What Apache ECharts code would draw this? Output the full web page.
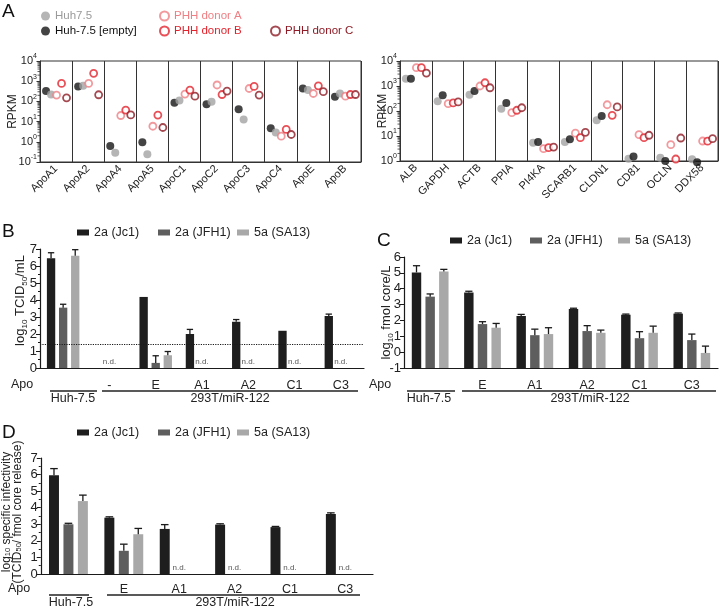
<!DOCTYPE html>
<html>
<head>
<meta charset="utf-8">
<script src="https://cdn.jsdelivr.net/npm/echarts@6/dist/echarts.min.js"></script>
<style>
  html, body { margin: 0; padding: 0; background: #fff; }
  #chart { width: 720px; height: 611px; }
</style>
</head>
<body>
<div id="chart"></div>
<script>
// ---- panel A : RPKM per gene ----
const genesLeft = ['ApoA1', 'ApoA2', 'ApoA4', 'ApoA5', 'ApoC1', 'ApoC2', 'ApoC3', 'ApoC4', 'ApoE', 'ApoB']
const huhLeft = [219, 590, 0.29, 0.24, 112, 96, 12.6, 2.9, 363, 246]
const emptyLeft = [324, 540, 0.62, 0.95, 85, 73, 41, 4.7, 435, 170]
const donorALeft = [205, 776, 20, 5.9, 230, 650, 435, 1.9, 246, 182]
const donorBLeft = [776, 2450, 37, 21, 363, 219, 550, 4.1, 590, 219]
const donorCLeft = [151, 213, 21.5, 5.1, 182, 324, 205, 2.3, 302, 219]

const genesRight = ['ALB', 'GAPDH', 'ACTB', 'PPIA', 'PI4KA', 'SCARB1', 'CLDN1', 'CD81', 'OCLN', 'DDX58']
const huhRight = [1950, 245, 450, 123, 5.4, 5.8, 43, 1.23, 1.35, 1.17]
const emptyRight = [1950, 430, 630, 210, 5.8, 7.4, 63, 1.5, 1.0, 0.9]
const donorARight = [5400, 196, 1000, 86, 3.1, 13, 178, 11.3, 4.5, 6.3]
const donorBRight = [5400, 210, 1350, 107, 3.4, 8.6, 67, 8.6, 1.2, 6.2]
const donorCRight = [3300, 230, 850, 135, 3.6, 14, 145, 10.7, 8.3, 7.8]

// ---- panel B : log10 TCID50/mL (null = n.d.) ----
const groupsB = ['', '-', 'E', 'A1', 'A2', 'C1', 'C3']
const jc1B = [6.45, null, 4.18, 2.0, 2.72, 2.19, 3.06]
const jc1BErr = [0.33, 0, 0, 0.27, 0.13, 0, 0.11]
const jfh1B = [3.55, null, 0.3, null, null, null, null]
const jfh1BErr = [0.2, 0, 0.42, 0, 0, 0, 0]
const sa13B = [6.6, null, 0.75, null, null, null, null]
const sa13BErr = [0.36, 0, 0.22, 0, 0, 0, 0]
const cutoffB = 1.4

// ---- panel C : log10 fmol core/L ----
const groupsC = ['', 'E', 'A1', 'A2', 'C1', 'C3']
const jc1C = [5.03, 3.76, 2.28, 2.72, 2.36, 2.43]
const jc1CErr = [0.42, 0.08, 0.1, 0.05, 0.04, 0.04]
const jfh1C = [3.5, 1.77, 1.07, 1.33, 0.88, 0.76]
const jfh1CErr = [0.17, 0.15, 0.38, 0.34, 0.41, 0.38]
const sa13C = [5.09, 1.54, 1.14, 1.22, 1.22, -0.05]
const sa13CErr = [0.13, 0.27, 0.4, 0.17, 0.42, 0.43]

// ---- panel D : log10 specific infectivity ----
const groupsD = ['', 'E', 'A1', 'A2', 'C1', 'C3']
const jc1D = [5.96, 3.4, 2.72, 2.98, 2.83, 3.62]
const jc1DErr = [0.4, 0.05, 0.26, 0.05, 0.04, 0.07]
const jfh1D = [3.0, 1.4, null, null, null, null]
const jfh1DErr = [0.06, 0.4, 0, 0, 0, 0]
const sa13D = [4.4, 2.4, null, null, null, null]
const sa13DErr = [0.36, 0.35, 0, 0, 0, 0]

const names = ['2a (Jc1)', '2a (JFH1)', '5a (SA13)']
const barColors = ['#1e1e1e', '#5e5e5e', '#a8a8a8']
const ink = '#1a1a1a'
const BW = 0.18, GAP = 0.45

const chart = echarts.init(document.getElementById('chart'))

// dot position inside each gene column (px)
const slots = [-10, -5, 0.5, 5.5, 10.5]

function dots(name, data, gi, slot, fill, stroke) {
  return {
    type: 'scatter', name: name, xAxisIndex: gi, yAxisIndex: gi, data: data,
    symbolSize: fill ? 8 : 7, symbolOffset: [slots[slot], 0], clip: false,
    itemStyle: fill ? { color: fill } : { color: '#fff', borderColor: stroke, borderWidth: 1.8 }
  }
}

// log minor ticks (2..9 x 10^k) drawn on the left edge of a log grid
function logMinor(gi, lo, hi) {
  const vals = []
  for (let e = lo; e < hi; e++) {
    for (let m = 2; m <= 9; m++) vals.push([0, m * Math.pow(10, e)])
  }
  return {
    type: 'custom', xAxisIndex: gi, yAxisIndex: gi, data: vals, silent: true,
    renderItem: (params, api) => {
      const y = api.coord([0, api.value(1)])[1]
      const x = params.coordSys.x
      return { type: 'line', shape: { x1: x - 2.5, y1: y, x2: x, y2: y }, style: { stroke: '#333', lineWidth: 0.8 } }
    }
  }
}

function bars(idx, values, gi, shift, nd) {
  return {
    type: 'bar', name: names[idx], xAxisIndex: gi, yAxisIndex: gi,
    barWidth: (BW * 100) + '%', barGap: (GAP * 100) + '%',
    itemStyle: { color: barColors[idx] },
    data: values.map(v => v == null
      ? { value: shift, label: { show: nd, position: 'top', distance: 2, formatter: 'n.d.', fontSize: 8, color: '#555' } }
      : v + shift)
  }
}

function renderErr(params, api) {
  const cat = api.value(0), v = api.value(1), err = api.value(2), slot = api.value(3)
  const low = api.coord([cat, v])
  const high = api.coord([cat, v + err])
  const band = api.size([1, 0])[0]
  const x = low[0] + (slot - 1) * band * BW * (1 + GAP)
  const cap = band * BW * 0.38
  const st = { stroke: ink, lineWidth: 1.3 }
  return {
    type: 'group', children: [
      { type: 'line', shape: { x1: x, y1: low[1], x2: x, y2: high[1] }, style: st },
      { type: 'line', shape: { x1: x - cap, y1: high[1], x2: x + cap, y2: high[1] }, style: st }
    ]
  }
}

function errors(gi, pairs, shift) {
  const data = []
  pairs.forEach((p, slot) => {
    p[0].forEach((v, i) => {
      if (v != null && p[1][i] > 0) data.push([i, v + shift, p[1][i], slot])
    })
  })
  return { type: 'custom', xAxisIndex: gi, yAxisIndex: gi, renderItem: renderErr, data: data, silent: true, z: 3 }
}

const supRich = {
  a: { fontSize: 11, lineHeight: 16, color: '#222' },
  s: { fontSize: 7, lineHeight: 8, verticalAlign: 'top', color: '#222' }
}
const subRich = {
  a: { fontSize: 13, lineHeight: 18, color: '#222' },
  b: { fontSize: 8, lineHeight: 9, verticalAlign: 'bottom', color: '#222' }
}

function geneX(gi, genes) {
  return {
    type: 'category', gridIndex: gi, data: genes, boundaryGap: true,
    axisLine: { lineStyle: { color: '#333' } },
    axisTick: { alignWithLabel: true, length: 3, lineStyle: { color: '#333' } },
    splitLine: { show: true, lineStyle: { color: '#333', width: 1 } },
    axisLabel: { rotate: 45, fontSize: 11, color: '#222', margin: 5, interval: 0 }
  }
}

function logY(gi, min, gap) {
  return {
    type: 'log', logBase: 10, gridIndex: gi, min: min, max: 10000,
    name: 'RPKM', nameLocation: 'middle', nameGap: gap, nameMoveOverlap: false,
    nameTextStyle: { fontSize: 12, color: '#222' },
    axisLine: { show: true, lineStyle: { color: '#333' } },
    axisTick: { show: true, length: 3.5, lineStyle: { color: '#333' } },
    splitLine: { show: false },
    axisLabel: {
      margin: 3,
      formatter: v => '{a|10}{s|' + Math.round(Math.log10(v)) + '}',
      rich: supRich
    }
  }
}

function groupX(gi, groups, margin, font) {
  return {
    type: 'category', gridIndex: gi, data: groups,
    axisLine: { lineStyle: { color: ink, width: 1.2 } },
    axisTick: { alignWithLabel: true, length: 4, lineStyle: { color: ink } },
    axisLabel: { fontSize: 12.5, color: '#222', margin: margin, interval: 0, fontFamily: font }
  }
}

function valueY(gi, name, gap, shift, minor, lift) {
  return {
    type: 'value', gridIndex: gi, min: 0, max: 7, interval: 1,
    name: name, nameLocation: 'middle', nameGap: gap, nameMoveOverlap: false,
    nameTextStyle: { rich: subRich, padding: [0, 0, 0, lift] },
    axisLine: { show: true, lineStyle: { color: ink, width: 1.2 } },
    axisTick: { show: true, length: 4, lineStyle: { color: ink } },
    minorTick: { show: minor, splitNumber: 2, length: 2, lineStyle: { color: ink } },
    splitLine: { show: false },
    axisLabel: { fontSize: 13, color: '#222', margin: 3, formatter: v => String(v - shift) }
  }
}

// one legend per item so each swatch sits where the figure puts it
function barLegends(lefts, top) {
  return names.map((n, i) => ({
    left: lefts[i], top: top, icon: 'rect', itemWidth: 12, itemHeight: 6,
    data: [n], selectedMode: false,
    textStyle: { fontSize: 12.5, color: '#222' }
  }))
}

const narrow = 'Liberation Sans Narrow, Arial Narrow, sans-serif'

const labelText = (x, y, text, size) => ({
  type: 'text', x: x, y: y,
  style: { text: text, fontSize: size || 12.5, fill: '#222', align: 'center', verticalAlign: 'middle' }
})
const rule = (x1, x2, y) => ({
  type: 'line', shape: { x1: x1, y1: y, x2: x2, y2: y }, style: { stroke: '#222', lineWidth: 1.3 }
})
const letter = (x, y, t) => ({
  type: 'text', left: x, top: y, style: { text: t, fontSize: 19, fill: '#111' }
})

chart.setOption({
  animation: false,
  textStyle: { fontFamily: 'Liberation Sans, Arial, Helvetica, sans-serif' },
  grid: [
    { left: 40, top: 61, width: 321, height: 101, show: true, borderColor: '#333', borderWidth: 1 },
    { left: 400, top: 61, width: 318, height: 100, show: true, borderColor: '#333', borderWidth: 1 },
    { left: 40, top: 249, width: 324, height: 119 },
    { left: 404, top: 257, width: 314, height: 111 },
    { left: 40, top: 458, width: 333, height: 116 }
  ],
  xAxis: [
    geneX(0, genesLeft),
    geneX(1, genesRight),
    groupX(2, groupsB, 11, narrow),
    groupX(3, groupsC, 11, narrow),
    groupX(4, groupsD, 9, undefined)
  ],
  yAxis: [
    logY(0, 0.1, 21),
    logY(1, 1, 11),
    valueY(2, '{a|log}{b|10}{a| TCID}{b|50}{a|/mL}', 11, 0, true, 16),
    valueY(3, '{a|log}{b|10}{a| fmol core/L}', 9, 1, false, 0),
    Object.assign(valueY(4, '{a|log}{b|10}{a| specific infectivity}\n{a|(TCID}{b|50}{a|/ fmol core release)}', 18, 0, true, 0),
      { nameTextStyle: { padding: [0, 0, 0, 8], rich: {
        a: { fontSize: 12, lineHeight: 10.5, color: '#222' },
        b: { fontSize: 7.5, lineHeight: 6, verticalAlign: 'bottom', color: '#222' }
      } } })
  ],
  legend: [
    { left: 36, top: 5, orient: 'vertical', itemGap: 3, itemWidth: 9, itemHeight: 9, selectedMode: false,
      textStyle: { fontSize: 11.5 },
      data: [{ name: 'Huh7.5', textStyle: { color: '#9a9a9a' } }, { name: 'Huh-7.5 [empty]', textStyle: { color: '#111' } }] },
    { left: 154, top: 5, orient: 'vertical', itemGap: 3, itemWidth: 9, itemHeight: 9, selectedMode: false,
      textStyle: { fontSize: 11.5 },
      data: [{ name: 'PHH donor A', textStyle: { color: '#ef7f84' } }, { name: 'PHH donor B', textStyle: { color: '#e2232c' } }] },
    { left: 265, top: 20, itemWidth: 9, itemHeight: 9, selectedMode: false,
      textStyle: { fontSize: 11.5 },
      data: [{ name: 'PHH donor C', textStyle: { color: '#8e1b25' } }] }
  ].concat(
    barLegends([72, 153, 232], 221),
    barLegends([445, 525, 613], 229),
    barLegends([72, 153, 232], 421)
  ),
  graphic: [
    letter(2, 2, 'A'), letter(2, 222, 'B'), letter(377, 231, 'C'), letter(2, 423, 'D'),
    labelText(22, 385, 'Apo'), rule(50, 97, 391), rule(102, 358, 391),
    labelText(73, 399, 'Huh-7.5'), labelText(230, 399, '293T/miR-122'),
    labelText(380, 385, 'Apo'), rule(407, 455, 391), rule(462, 716, 391),
    labelText(429, 399, 'Huh-7.5'), labelText(590, 399, '293T/miR-122'),
    labelText(19, 589, 'Apo'), rule(49, 89, 595), rule(107, 360, 595),
    labelText(71, 603, 'Huh-7.5'), labelText(235, 603, '293T/miR-122')
  ],
  series: [
    logMinor(0, -1, 4),
    logMinor(1, 0, 4),
    dots('Huh-7.5 [empty]', emptyLeft, 0, 0, '#151515'),
    dots('Huh7.5', huhLeft, 0, 1, '#a3a3a3'),
    dots('PHH donor A', donorALeft, 0, 2, null, '#ef7f84'),
    dots('PHH donor B', donorBLeft, 0, 3, null, '#e2232c'),
    dots('PHH donor C', donorCLeft, 0, 4, null, '#8e1b25'),
    dots('Huh7.5', huhRight, 1, 0, '#a3a3a3'),
    dots('Huh-7.5 [empty]', emptyRight, 1, 1, '#151515'),
    dots('PHH donor A', donorARight, 1, 2, null, '#ef7f84'),
    dots('PHH donor B', donorBRight, 1, 3, null, '#e2232c'),
    dots('PHH donor C', donorCRight, 1, 4, null, '#8e1b25'),

    Object.assign(bars(0, jc1B, 2, 0, false), {
      markLine: { silent: true, symbol: 'none', label: { show: false },
        lineStyle: { type: 'dotted', color: ink, width: 1.2 }, data: [{ yAxis: cutoffB }] }
    }),
    bars(1, jfh1B, 2, 0, true),
    bars(2, sa13B, 2, 0, false),
    errors(2, [[jc1B, jc1BErr], [jfh1B, jfh1BErr], [sa13B, sa13BErr]], 0),

    bars(0, jc1C, 3, 1, false),
    bars(1, jfh1C, 3, 1, true),
    bars(2, sa13C, 3, 1, false),
    errors(3, [[jc1C, jc1CErr], [jfh1C, jfh1CErr], [sa13C, sa13CErr]], 1),

    bars(0, jc1D, 4, 0, false),
    bars(1, jfh1D, 4, 0, true),
    bars(2, sa13D, 4, 0, false),
    errors(4, [[jc1D, jc1DErr], [jfh1D, jfh1DErr], [sa13D, sa13DErr]], 0)
  ]
})
</script>
</body>
</html>
